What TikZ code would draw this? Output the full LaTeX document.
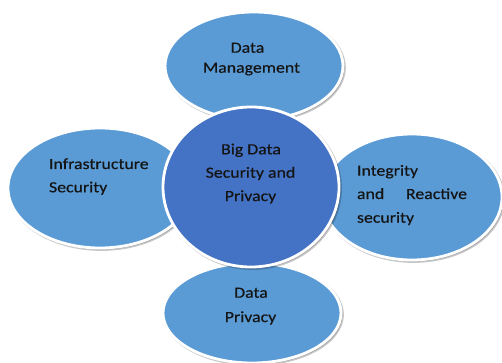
\documentclass[tikz,border=0pt]{standalone}
\usepackage{fontspec}
\setmainfont{Carlito}[FakeStretch=1.15, FakeBold=0.4]
\usetikzlibrary{shapes.geometric}
\definecolor{petalc}{HTML}{5B9BD5}
\definecolor{hubc}{HTML}{4472C4}
\definecolor{ink}{HTML}{141414}
\begin{document}
\begin{tikzpicture}[x=1pt,y=-1pt,
  blob/.style={ellipse, draw=white, line width=2.8pt, inner sep=0pt, outer sep=0pt},
  petal/.style={blob, fill=petalc},
  hub/.style={blob, fill=hubc},
  shadowblob/.style={ellipse, fill=black, draw=black, opacity=0.22, line width=2.8pt, inner sep=0pt, outer sep=0pt},
  txt/.style={font=\fontsize{15.5}{18}\selectfont, text=ink, inner sep=0pt, outer sep=0pt}
]
\useasboundingbox (0,0) rectangle (502,363);
% top
\node[shadowblob, minimum width=178pt, minimum height=108pt] (sTop) at (255.5,67.5) {};
\node[petal, minimum width=178pt, minimum height=108pt] (top) at (254,66) {};
% left
\node[shadowblob, minimum width=184pt, minimum height=120pt] (sLeft) at (101.5,189.5) {};
\node[petal, minimum width=184pt, minimum height=120pt] (left) at (100,188) {};
% right
\node[shadowblob, minimum width=180pt, minimum height=126pt] (sRight) at (413.5,198.5) {};
\node[petal, minimum width=180pt, minimum height=126pt] (right) at (412,197) {};
% bottom
\node[shadowblob, minimum width=178pt, minimum height=100pt] (sBottom) at (253.5,314.5) {};
\node[petal, minimum width=178pt, minimum height=100pt] (bottom) at (252,313) {};
% centre
\node[shadowblob, minimum width=176pt, minimum height=160pt] (sHub) at (252.5,188.5) {};
\node[hub, minimum width=176pt, minimum height=160pt] (hub) at (251,187) {};
% texts
\node[txt, anchor=base] (top1) at (247.5,52.7) {Data};
\node[txt, anchor=base] (top2) at (251.5,72.7) {Management};
\node[txt, anchor=base] (hub1) at (251,154.3) {Big Data};
\node[txt, anchor=base] (hub2) at (250.5,177.7) {Security and};
\node[txt, anchor=base] (hub3) at (250.5,201) {Privacy};
\node[txt, anchor=base west] (left1) at (49,169) {Infrastructure};
\node[txt, anchor=base west] (left2) at (49,192.3) {Security};
\node[txt, anchor=base west] (right1) at (357,175.7) {Integrity};
\node[txt, anchor=base west] (right2) at (357,199) {\makebox[110pt][s]{and\hfill Reactive}};
\node[txt, anchor=base west] (right3) at (357,222.7) {security};
\node[txt, anchor=base] (bot1) at (251,297.7) {Data};
\node[txt, anchor=base] (bot2) at (250.5,322) {Privacy};
\end{tikzpicture}
\end{document}
